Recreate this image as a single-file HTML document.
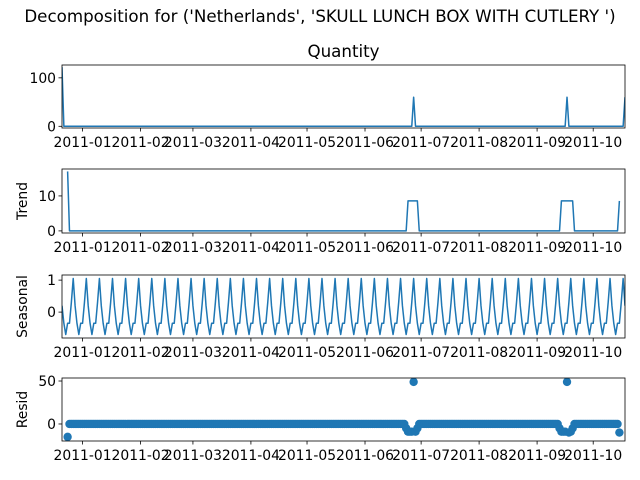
<!DOCTYPE html>
<html><head><meta charset="utf-8"><style>
body{margin:0;background:#fff;}
svg{display:block;font-family:"DejaVu Sans","Liberation Sans",sans-serif;}
</style></head><body>
<svg id="c" width="640" height="480" viewBox="0 0 640 480"></svg>
<script>
const N = 302;
const tickLabels = ["2011-01","2011-02","2011-03","2011-04","2011-05","2011-06","2011-07","2011-08","2011-09","2011-10"];
const tickDays = [11,42,70,101,131,162,192,223,254,284];
const quantityDays = [0,188,270,301];
const quantityValues = [122,60,60,60];
const trendDays = [3,4,184,185,190,191,266,267,273,274,297,298];
const trendValues = [17,0,0,8.57,8.57,0,0,8.57,8.57,0,0,8.57];
const seasonalPattern = [0.2,-0.35,-0.7,-0.35,-0.35,0.3,1.05];
const residDays = [3,184,185,186,187,188,189,190,266,267,268,269,270,271,272,273,298];
const residValues = [-15,-5,-9,-9,-9,49,-9,-5,-5,-9,-9,-9,49,-10,-9,-5,-10];

const svg = document.getElementById('c');
const NS = 'http://www.w3.org/2000/svg';
const X0 = 62, X1 = 625;
function xs(i){ return X0 + i*(X1-X0)/(N-1); }
function mk(tag, attrs, parent){ const e=document.createElementNS(NS,tag); for(const k in attrs) e.setAttribute(k,attrs[k]); (parent||svg).appendChild(e); return e; }

const panels = [
 {name:'observed', top:65, bot:128, y0:-3.5, y1:126.5, yticks:[0,100], title:'Quantity', ylabel:''},
 {name:'trend', top:169, bot:233, y0:-0.6, y1:17.7, yticks:[0,10], ylabel:'Trend'},
 {name:'seasonal', top:275, bot:338, y0:-0.81, y1:1.16, yticks:[0,1], ylabel:'Seasonal'},
 {name:'resid', top:378, bot:441, y0:-19.8, y1:53.5, yticks:[0,50], ylabel:'Resid'}
];

const t = mk('text',{x:320,y:22,'text-anchor':'middle','font-size':'16.7',fill:'#000'});
t.textContent = "Decomposition for ('Netherlands', 'SKULL LUNCH BOX WITH CUTLERY ')";



function seriesFor(p){
  const vals = [], days = [];
  if(p.name==='observed'){
    for(let i=0;i<N;i++){ vals.push(0); days.push(i); }
    quantityDays.forEach((d,k)=>vals[d]=quantityValues[k]);
    return {days, vals};
  }
  if(p.name==='trend') return {days:trendDays, vals:trendValues};
  if(p.name==='seasonal'){
    for(let i=0;i<N;i++){ vals.push(seasonalPattern[i%7]); days.push(i); }
    return {days, vals};
  }
  const map = {};
  residDays.forEach((d,k)=>map[d]=residValues[k]);
  for(let i=residDays[0];i<=residDays[residDays.length-1];i++){ days.push(i); vals.push(map[i]!==undefined?map[i]:0); }
  return {days, vals};
}

panels.forEach(p=>{
  const g = mk('g',{});
  
  
  const ys = v => p.bot - (v-p.y0)/(p.y1-p.y0)*(p.bot-p.top);
  const s = seriesFor(p);
  const cp = mk('clipPath',{id:'cp-'+p.name},g);
  mk('rect',{x:X0,y:p.top,width:X1-X0,height:p.bot-p.top},cp);
  if(p.name==='resid'){
    const mg = mk('g',{'clip-path':'url(#cp-resid)'},g);
    s.days.forEach((d,k)=>{
      const c = mk('circle',{cx:xs(d),cy:ys(s.vals[k]),r:4.2,fill:'#1f77b4'},mg);
      
      
    });
  } else {
    const pts = s.days.map((d,k)=>xs(d).toFixed(2)+','+ys(s.vals[k]).toFixed(2)).join(' ');
    const l = mk('polyline',{points:pts,fill:'none',stroke:'#1f77b4','stroke-width':1.5,'stroke-linejoin':'round','clip-path':'url(#cp-'+p.name+')'},g);
    
    
  }
  const fr = mk('rect',{x:X0,y:p.top,width:X1-X0,height:p.bot-p.top,fill:'none',stroke:'#000','stroke-width':0.8},g);
  
  
  p.yticks.forEach(v=>{
    const y = ys(v);
    mk('line',{x1:X0-3.5,x2:X0,y1:y,y2:y,stroke:'#000','stroke-width':0.8},g);
    const tx = mk('text',{x:X0-6,y:y+5,'text-anchor':'end','font-size':'13.9',fill:'#000'},g);
    tx.textContent = v;
    
    
  });
  tickDays.forEach((d,k)=>{
    const x = xs(d);
    mk('line',{x1:x,x2:x,y1:p.bot,y2:p.bot+3.5,stroke:'#000','stroke-width':0.8},g);
    const tx = mk('text',{x:x,y:p.bot+19,'text-anchor':'middle','font-size':'13.9',fill:'#000'},g);
    tx.textContent = tickLabels[k];
    
    
  });
  if(p.ylabel){
    const cy = (p.top+p.bot)/2;
    const yl = mk('text',{x:0,y:0,'text-anchor':'middle','font-size':'13.9',fill:'#000',transform:'translate(27,'+cy+') rotate(-90)'},g);
    yl.textContent = p.ylabel;
    
    
  }
  if(p.title){
    const tt = mk('text',{x:(X0+X1)/2,y:p.top-8,'text-anchor':'middle','font-size':'16.7',fill:'#000'},g);
    tt.textContent = p.title;
    
    
  }
});
</script>
</body></html>
